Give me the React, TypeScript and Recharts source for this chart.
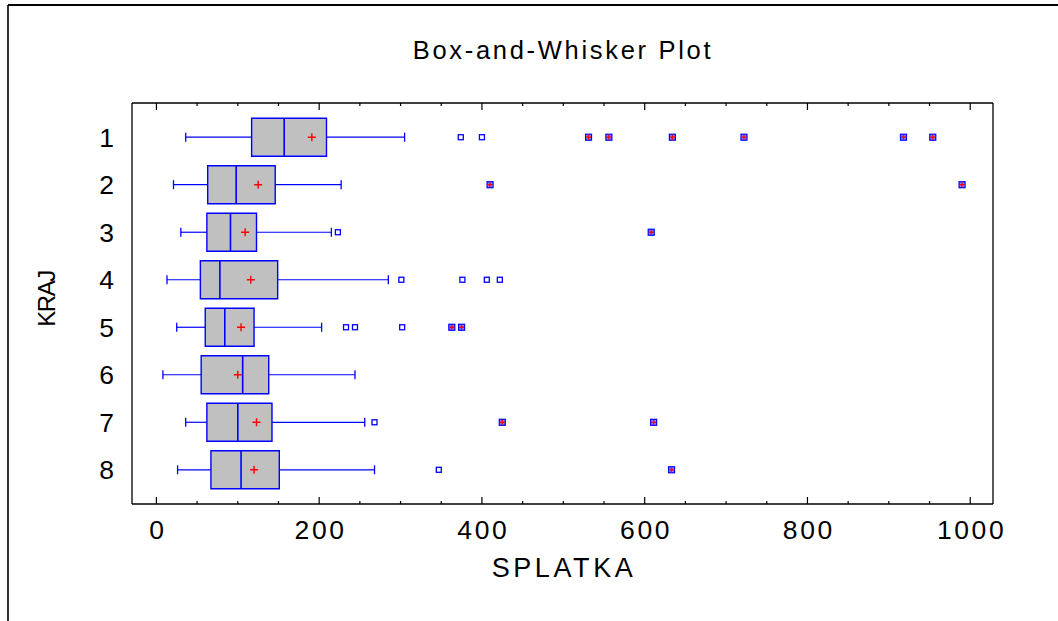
import { ScatterChart, Scatter, XAxis, YAxis, ReferenceArea, ReferenceLine } from 'recharts';

// KRAJ groups (values of SPLATKA)
const kraj = [1, 2, 3, 4, 5, 6, 7, 8];
const whiskerLow = [36, 21, 30, 13, 25, 8, 36, 26];
const q1 = [117, 63, 62, 54, 60, 55, 62, 67];
const median = [157, 98, 91, 78, 84, 106, 100, 104];
const q3 = [209, 146, 123, 149, 120, 138, 142, 151];
const whiskerHigh = [305, 227, 215, 285, 203, 244, 256, 268];
const mean = [191, 125, 109, 116, 104, 100, 123, 120];
const outside = [[374, 400], [], [223], [301, 376, 406, 422], [233, 244, 302], [], [268], [347]];
const farOutside = [[531, 556, 634, 722, 918, 954], [410, 990], [608], [], [363, 375], [], [425, 611], [633]];

const xTicks = [0, 50, 100, 150, 200, 250, 300, 350, 400, 450, 500, 550, 600, 650, 700, 750, 800, 850, 900, 950, 1000];
const xDomain: [number, number] = [-30, 1028];
const yDomain: [number, number] = [0.28, 8.72];

const FONT = '"Liberation Sans", Arial, sans-serif';
const BLUE = '#0000ff';
const BOX_HALF = 0.4;
const CAP_HALF = 0.095;

const meanPoints = kraj.map((k, i) => ({ x: mean[i], y: k }));
const outsidePoints = kraj.flatMap((k, i) => outside[i].map((v) => ({ x: v, y: k })));
const farPoints = kraj.flatMap((k, i) => farOutside[i].map((v) => ({ x: v, y: k })));

function BottomTick({ x, y, payload }: any) {
  const v = payload.value;
  const major = v % 200 === 0;
  return (
    <g>
      <line x1={x} y1={y} x2={x} y2={y - (major ? 7 : 3)} stroke="#000" strokeWidth={1.2} />
      {major && (
        <text x={x + 1.4} y={y + 35} textAnchor="middle" fontSize={26.5} letterSpacing={2.6} fill="#000" fontFamily={FONT}>
          {v}
        </text>
      )}
    </g>
  );
}

function TopTick({ x, y, payload }: any) {
  const major = payload.value % 200 === 0;
  return <line x1={x} y1={y} x2={x} y2={y + (major ? 7 : 3)} stroke="#000" strokeWidth={1.2} />;
}

const MeanMark = ({ cx, cy }: any) => (
  <path d={`M${cx - 4},${cy}h8M${cx},${cy - 4}v8`} stroke="#ff0000" strokeWidth={1.4} fill="none" />
);

const OutsideMark = ({ cx, cy }: any) => (
  <rect x={cx - 2.5} y={cy - 2.5} width={5} height={5} fill="#fff" stroke={BLUE} strokeWidth={1.3} />
);

const FarMark = ({ cx, cy }: any) => (
  <g>
    <rect x={cx - 3} y={cy - 3} width={6} height={6} fill="#8080ff" stroke={BLUE} strokeWidth={1.2} />
    <path d={`M${cx - 2.5},${cy}h5M${cx},${cy - 2.5}v5`} stroke="#ff0000" strokeWidth={1.3} />
  </g>
);

export default function App() {
  return (
    <div style={{ position: 'fixed', left: 0, top: 0, width: 1058, height: 621, background: '#fff', fontFamily: FONT, overflow: 'hidden' }}>
      <ScatterChart width={1058} height={621} margin={{ top: 102, right: 65, bottom: 44, left: 52 }}>
        <XAxis
          type="number"
          dataKey="x"
          domain={xDomain}
          allowDataOverflow
          ticks={xTicks}
          interval={0}
          height={73}
          tickLine={false}
          tickSize={0}
          tickMargin={0}
          tick={<BottomTick />}
          axisLine={{ stroke: '#000', strokeWidth: 1.3 }}
        />
        <XAxis
          xAxisId="top"
          orientation="top"
          type="number"
          dataKey="x"
          domain={xDomain}
          allowDataOverflow
          ticks={xTicks}
          interval={0}
          height={1}
          tickLine={false}
          tickSize={0}
          tickMargin={0}
          tick={<TopTick />}
          axisLine={{ stroke: '#000', strokeWidth: 1.3 }}
        />
        <YAxis
          type="number"
          dataKey="y"
          domain={yDomain}
          allowDataOverflow
          reversed
          ticks={kraj}
          interval={0}
          width={80}
          tickLine={false}
          tickSize={0}
          tickMargin={18}
          tick={{ fontSize: 26.5, fill: '#000', fontFamily: FONT }}
          axisLine={{ stroke: '#000', strokeWidth: 1.3 }}
        />
        <ReferenceLine x={xDomain[1]} stroke="#000" strokeWidth={1.3} />
        {kraj.map((k, i) => (
          <ReferenceArea
            key={`box-${k}`}
            x1={q1[i]}
            x2={q3[i]}
            y1={k - BOX_HALF}
            y2={k + BOX_HALF}
            fill="#c0c0c0"
            fillOpacity={1}
            stroke={BLUE}
            strokeWidth={1.4}
          />
        ))}
        {kraj.map((k, i) => (
          <ReferenceLine key={`wl-${k}`} segment={[{ x: whiskerLow[i], y: k }, { x: q1[i], y: k }]} stroke={BLUE} strokeWidth={1.2} />
        ))}
        {kraj.map((k, i) => (
          <ReferenceLine key={`wh-${k}`} segment={[{ x: q3[i], y: k }, { x: whiskerHigh[i], y: k }]} stroke={BLUE} strokeWidth={1.2} />
        ))}
        {kraj.map((k, i) => (
          <ReferenceLine key={`cl-${k}`} segment={[{ x: whiskerLow[i], y: k - CAP_HALF }, { x: whiskerLow[i], y: k + CAP_HALF }]} stroke={BLUE} strokeWidth={1.3} />
        ))}
        {kraj.map((k, i) => (
          <ReferenceLine key={`ch-${k}`} segment={[{ x: whiskerHigh[i], y: k - CAP_HALF }, { x: whiskerHigh[i], y: k + CAP_HALF }]} stroke={BLUE} strokeWidth={1.3} />
        ))}
        {kraj.map((k, i) => (
          <ReferenceLine key={`md-${k}`} segment={[{ x: median[i], y: k - BOX_HALF }, { x: median[i], y: k + BOX_HALF }]} stroke={BLUE} strokeWidth={1.6} />
        ))}
        <Scatter data={outsidePoints} shape={<OutsideMark />} isAnimationActive={false} />
        <Scatter data={farPoints} shape={<FarMark />} isAnimationActive={false} />
        <Scatter data={meanPoints} shape={<MeanMark />} isAnimationActive={false} />
      </ScatterChart>
      <svg width={1058} height={621} style={{ position: 'absolute', left: 0, top: 0, pointerEvents: 'none' }}>
        <line x1={8} y1={5} x2={1058} y2={5} stroke="#000" strokeWidth={2} />
        <line x1={8} y1={5} x2={8} y2={621} stroke="#000" strokeWidth={1.6} />
        <text x={563} y={59} textAnchor="middle" fontSize={25.5} letterSpacing={2.7} fill="#000" fontFamily={FONT}>
          Box-and-Whisker Plot
        </text>
        <text x={564} y={577} textAnchor="middle" fontSize={27} letterSpacing={3.6} fill="#000" fontFamily={FONT}>
          SPLATKA
        </text>
        <text x={55} y={299} transform="rotate(-90 55 299)" textAnchor="middle" fontSize={24} letterSpacing={-1.5} fill="#000" fontFamily={FONT}>
          KRAJ
        </text>
      </svg>
    </div>
  );
}
